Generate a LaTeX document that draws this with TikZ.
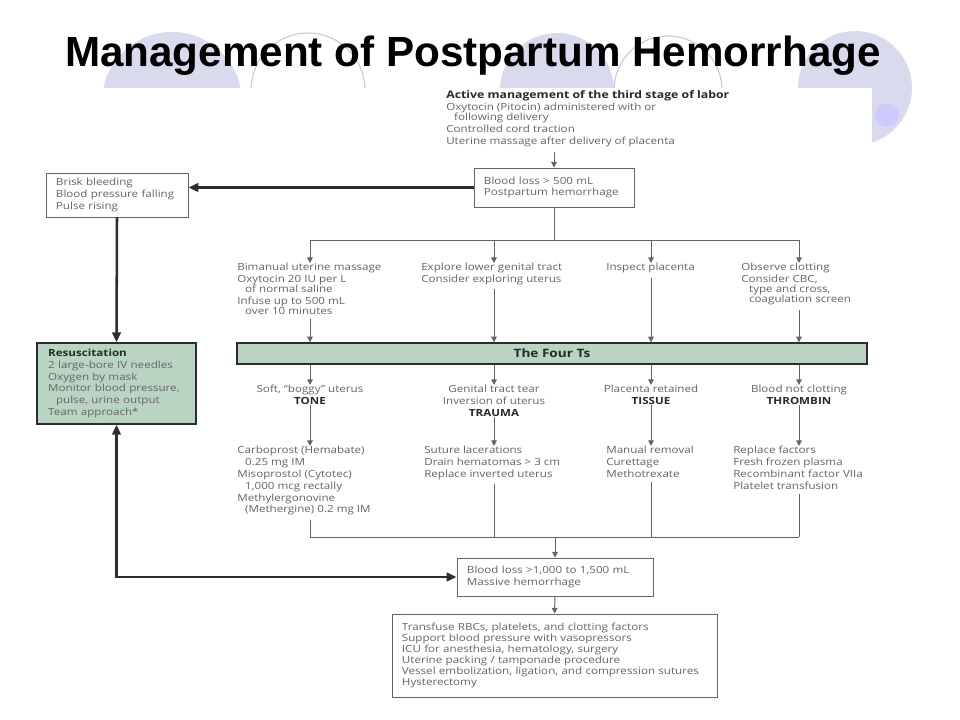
\documentclass[tikz,border=0pt]{standalone}
\usepackage{fontspec}
\setmainfont{Open Sans}[FakeStretch=1.18]
\newfontfamily\titlefont{Liberation Sans}
\usepackage{xcolor}
\usetikzlibrary{arrows.meta, positioning, calc}
\definecolor{txtgray}{RGB}{100,100,100}
\definecolor{hdrgray}{RGB}{40,40,40}
\definecolor{linegray}{RGB}{100,100,100}
\definecolor{darkline}{RGB}{45,45,45}
\definecolor{tsgreen}{RGB}{186,212,196}
\definecolor{circfill}{RGB}{218,218,238}
\definecolor{circline}{RGB}{200,200,228}
\definecolor{dotblue}{RGB}{204,204,252}
\tikzset{
	txt/.style={font=\fontsize{7}{8.4}\selectfont, text=txtgray, align=left, inner sep=0pt},
	box/.style={txt, draw=linegray, line width=0.6pt, inner xsep=0.25cm},
	tbox/.style={box, draw=darkline, line width=1pt, fill=tsgreen},
	ln/.style={draw=linegray, line width=0.7pt},
	arr/.style={ln, -{Triangle[length=4pt,width=4pt]}},
	bigline/.style={draw=darkline, line width=1.8pt},
}
\newcommand{\ind}{\hspace*{0.8em}}
\newcommand{\hd}[1]{{\color{hdrgray}\textbf{#1}}}

\begin{document}
\begin{tikzpicture}[x=0.025cm, y=-0.025cm]
	\useasboundingbox (0,0) rectangle (960,720);

  % Backdrop
	\fill[circfill] (172,102) circle (70);
	\draw[circline, line width=0.8pt] (308,90) circle (57);
	\fill[circfill] (557,90) circle (57);
	\draw[circline, line width=0.8pt] (668,90) circle (54);
	\fill[circfill] (855,88) circle (57);
	\fill[white] (20,88) rectangle (872,705);
	\fill[dotblue] (887,115) circle (12);

	\node[font=\titlefont\bfseries\fontsize{30}{34}\selectfont] (title) at (473,56) {Management of Postpartum Hemorrhage};

  % Nodes
	\node[txt, anchor=north west] (act) at (446,90) {\hd{\fontsize{7.4}{8.4}\selectfont Active management of the third stage of labor}\\Oxytocin (Pitocin) administered with or\\[-1.2pt]\ind following delivery\\[0.4pt]Controlled cord traction\\[0.4pt]Uterine massage after delivery of placenta};
	\node[box, text width=3.5cm, minimum height=0.975cm] (pph) at (554,187.5) {Blood loss > 500 mL\\Postpartum hemorrhage};
	\node[box, text width=3.05cm, minimum height=1.1cm] (brisk) at (117,195) {Brisk bleeding\\Blood pressure falling\\Pulse rising};
	\node[tbox, inner xsep=0.28cm, text width=3.415cm, minimum height=2.025cm] (resus) at (116.5,383.5) {\hd{Resuscitation}\\2 large-bore IV needles\\Oxygen by mask\\Monitor blood pressure,\\\ind pulse, urine output\\Team approach*};

	\node[txt, anchor=north west] (bim) at (237,263) {Bimanual uterine massage\\Oxytocin 20 IU per L\\[-1.2pt]\ind of normal saline\\Infuse up to 500 mL\\[-1.2pt]\ind over 10 minutes};
	\node[txt, anchor=north west] (expl) at (421,263) {Explore lower genital tract\\Consider exploring uterus};
	\node[txt, anchor=north west] (insp) at (606,263) {Inspect placenta};
	\node[txt, anchor=north west] (obs) at (741,263) {Observe clotting\\Consider CBC,\\[-1.2pt]\ind type and cross,\\[-1.2pt]\ind coagulation screen};

	\node[tbox, inner sep=0pt, align=center, minimum width=15.75cm, minimum height=0.525cm] (bar) at (552,353.5) {\fontsize{8.2}{9}\selectfont\hd{The Four Ts}};

	\node[txt, align=center, anchor=north] (tone) at (310,385) {Soft, “boggy” uterus\\\hd{TONE}};
	\node[txt, align=center, anchor=north] (trauma) at (494,385) {Genital tract tear\\Inversion of uterus\\\hd{TRAUMA}};
	\node[txt, align=center, anchor=north] (tissue) at (651,385) {Placenta retained\\\hd{TISSUE}};
	\node[txt, align=center, anchor=north] (thromb) at (799,385) {Blood not clotting\\\hd{THROMBIN}};

	\node[txt, anchor=north west] (carb) at (237,446) {Carboprost (Hemabate)\\\ind 0.25 mg IM\\Misoprostol (Cytotec)\\\ind 1,000 mcg rectally\\Methylergonovine\\\ind (Methergine) 0.2 mg IM};
	\node[txt, anchor=north west] (sut) at (424,446) {Suture lacerations\\Drain hematomas > 3 cm\\Replace inverted uterus};
	\node[txt, anchor=north west] (man) at (606,446) {Manual removal\\Curettage\\Methotrexate};
	\node[txt, anchor=north west] (rep) at (733,446) {Replace factors\\Fresh frozen plasma\\Recombinant factor VIIa\\Platelet transfusion};

	\node[box, text width=4.4cm, minimum height=0.95cm] (massive) at (555,577) {Blood loss >1,000 to 1,500 mL\\Massive hemorrhage};
	\node[box, text width=7.625cm, minimum height=2.075cm, font=\fontsize{7}{7.8}\selectfont] (surg) at (554.5,655.5) {Transfuse RBCs, platelets, and clotting factors\\Support blood pressure with vasopressors\\ICU for anesthesia, hematology, surgery\\Uterine packing / tamponade procedure\\Vessel embolization, ligation, and compression sutures\\Hysterectomy};

	\coordinate (split) at (554,240);
	\coordinate (join) at (555,537);

  % Arrows
	\draw[arr, shorten <=3pt] (act.south -| pph.north) -- (pph.north);
	\draw[ln] (pph.south) -- (split);
	\foreach \c/\b in {tone/bim, trauma/expl, tissue/insp, thromb/obs} {
		\draw[arr] (split) -| (\c |- \b.north);
		\draw[arr, shorten <=3pt] (\c |- \b.south) -- (\c |- bar.north);
		\draw[arr] (\c |- bar.south) -- (\c.north);
	}
	\foreach \c/\b in {tone/carb, trauma/sut, tissue/man, thromb/rep} {
		\draw[arr] (\c.south) -- (\c |- \b.north);
		\draw[ln, shorten <=3pt] (\c |- \b.south) -- (\c |- join);
	}
	\draw[ln] (tone |- join) -- (thromb |- join);
	\draw[arr] (join) -- (massive.north);
	\draw[arr] (massive.south) -- (surg.north);

  % Thick arrows (left loop)
	\draw[bigline, -{Triangle[length=7pt,width=6pt]}] (pph.west) -- (pph.west -| brisk.east);
	\draw[bigline, -{Triangle[length=7pt,width=6pt]}] (brisk.south) -- (resus.north);
	\draw[bigline, {Triangle[length=7pt,width=6pt]}-{Triangle[length=7pt,width=6pt]}] (resus.south) |- (massive.west);
\end{tikzpicture}
\end{document}
